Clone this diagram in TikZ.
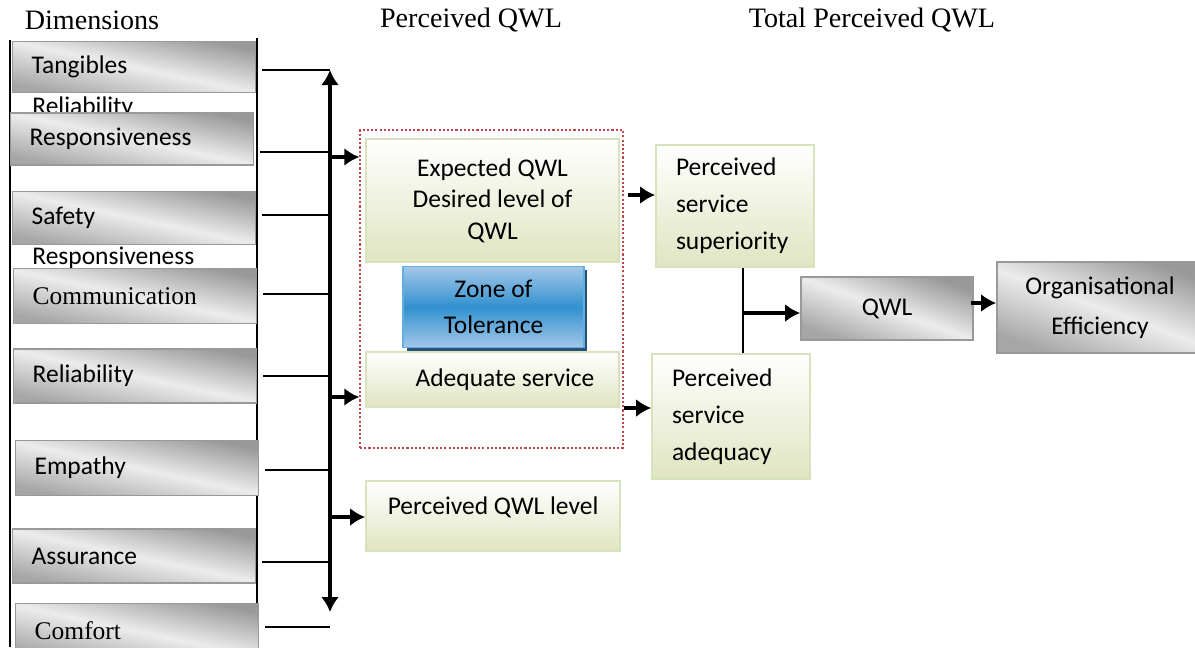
\documentclass[tikz,border=0pt]{standalone}
\usepackage{fontspec}
\setmainfont{Liberation Serif}
\newfontfamily\calibfont{Carlito}
\usetikzlibrary{arrows.meta,shadows}

\definecolor{boxgreen}{RGB}{214,227,188}
\definecolor{fillgreen}{RGB}{223,229,193}
\definecolor{boxblue}{RGB}{96,174,226}
\definecolor{midblue}{RGB}{50,145,207}
\definecolor{lightblue}{RGB}{163,199,232}
\definecolor{shadowblue}{RGB}{40,80,120}
\definecolor{dashred}{RGB}{190,70,70}

\begin{document}
\begin{tikzpicture}[x=0.02cm, y=-0.02cm,
  dimbox/.style={rectangle, draw=gray!80, line width=0.8pt, top color=gray!80, bottom color=gray!70, middle color=gray!15, shading angle=-12, anchor=west, text width=4.1cm, inner xsep=0.38cm, align=left, font=\calibfont\fontsize{14.5}{17}\selectfont},
  serifbox/.style={font=\rmfamily\fontsize{14.5}{17}\selectfont},
  greenbox/.style={rectangle, draw=boxgreen, line width=1pt, top color=white, bottom color=fillgreen, align=center, font=\calibfont\fontsize{14.5}{18}\selectfont},
  greybox/.style={rectangle, draw=gray!80, line width=1pt, top color=gray!80, bottom color=gray!70, middle color=gray!15, shading angle=-20, align=center, font=\calibfont\fontsize{14.5}{22.5}\selectfont},
  title/.style={font=\fontsize{16}{19}\selectfont},
  conn/.style={line width=0.9pt},
  arr/.style={-{Latex[length=0.3cm,width=0.36cm]}, line width=1.8pt},
  dblarr/.style={{Latex[length=0.3cm,width=0.36cm]}-{Latex[length=0.3cm,width=0.36cm]}, line width=1.8pt}]
\useasboundingbox (0,0) rectangle (1195,647);
\clip (0,0) rectangle (1195,647);

\node[title] (dimt) at (92,20) {Dimensions};
\node[title] (pert) at (471,20) {Perceived QWL};
\node[title] (tott) at (872,20) {Total Perceived QWL};

\draw[conn] (10,40) -- (10,647);
\draw[conn] (257,38) -- (257,647);

\node[anchor=base west, inner sep=0, font=\calibfont\fontsize{14.5}{17}\selectfont] (relilbl) at (32,114) {Reliability};
\node[anchor=base west, inner sep=0, font=\calibfont\fontsize{14.5}{17}\selectfont] (resplbl) at (32,264) {Responsiveness};

\node[dimbox, minimum height=1.02cm] (tang) at (12,67) {Tangibles};
\node[dimbox, minimum height=1.04cm] (resp) at (10,139) {Responsiveness};
\node[dimbox, minimum height=1.06cm] (safe) at (12,218) {Safety};
\node[dimbox, serifbox, minimum height=1.1cm] (comm) at (13,296) {Communication};
\node[dimbox, minimum height=1.08cm] (reli) at (13,376) {Reliability};
\node[dimbox, minimum height=1.1cm] (emp) at (15,468) {Empathy};
\node[dimbox, minimum height=1.08cm] (assu) at (12,556) {Assurance};
\node[dimbox, serifbox, minimum height=1.1cm] (comf) at (15,631) {Comfort};

\coordinate (bustop) at (330,70);
\coordinate (busbot) at (330,612);
\draw[dblarr] (busbot) -- (bustop);
\foreach \n/\y in {tang/70, resp/152, safe/215, comm/294, reli/376, emp/470, assu/562, comf/627}
  \draw[conn] (\n.east |- 0,\y) ++(6,0) -- (bustop |- 0,\y);

\node[draw=dashred, line width=0.8pt, dash pattern=on 1.2pt off 1.2pt, minimum width=5.26cm, minimum height=6.36cm, inner sep=0] (tolbox) at (491.5,289) {};
\node[greenbox, minimum width=5.06cm, minimum height=2.46cm] (expq) at (492.5,200.5) {Expected QWL\\Desired level of\\QWL};
\node[greenbox, minimum width=5.06cm, minimum height=1.1cm] (adeq) at (492.5,379.5) {\hspace*{0.5cm}Adequate service};
\node[rectangle, draw=boxblue, line width=1pt, top color=lightblue, bottom color=lightblue, middle color=midblue, drop shadow={shadow xshift=0.07cm, shadow yshift=-0.07cm, fill=shadowblue, opacity=1}, minimum width=3.62cm, minimum height=1.62cm, align=center, font=\calibfont\fontsize{14.5}{20.5}\selectfont] (zone) at (493.5,307) {Zone of\\Tolerance};
\node[greenbox, minimum width=5.08cm, minimum height=1.4cm, text height=0.35cm, text depth=0.43cm] (pqwl) at (493,516) {Perceived QWL level};

\node[greenbox, minimum height=2.44cm, text width=2.36cm, inner xsep=0.4cm, align=left, font=\calibfont\fontsize{14.5}{21}\selectfont] (sup) at (735,206) {Perceived\\service\\superiority};
\node[greenbox, minimum height=2.5cm, text width=2.36cm, inner xsep=0.4cm, align=left, font=\calibfont\fontsize{14.5}{21}\selectfont] (adq) at (731,416.5) {Perceived\\service\\adequacy};
\node[greybox, minimum width=3.44cm, minimum height=1.26cm] (qwl) at (887,308.5) {QWL};
\node[greybox, minimum width=4.12cm, minimum height=1.82cm] (org) at (1100,307.5) {Organisational\\Efficiency};

\coordinate (jexp) at (330,157);
\coordinate (jadq) at (330,397);
\coordinate (jlev) at (330,517);
\draw[arr] (jexp) -- (jexp -| tolbox.west);
\draw[arr] (jadq) -- (jadq -| tolbox.west);
\draw[arr] (jlev) -- (jlev -| pqwl.west);

\draw[arr] (tolbox.east |- 0,195) ++(4,0) -- (sup.west |- 0,195);
\draw[arr] (tolbox.east |- 0,408) -- (adq.west |- 0,408);
\draw[conn] (sup.south -| 743,0) -- (adq.north -| 743,0);
\coordinate (jqwl) at (743,313);
\draw[arr] (jqwl) -- (jqwl -| qwl.west);
\draw[arr] (qwl.east |- 0,303) ++(-3,0) -- (org.west |- 0,303);
\end{tikzpicture}
\end{document}
